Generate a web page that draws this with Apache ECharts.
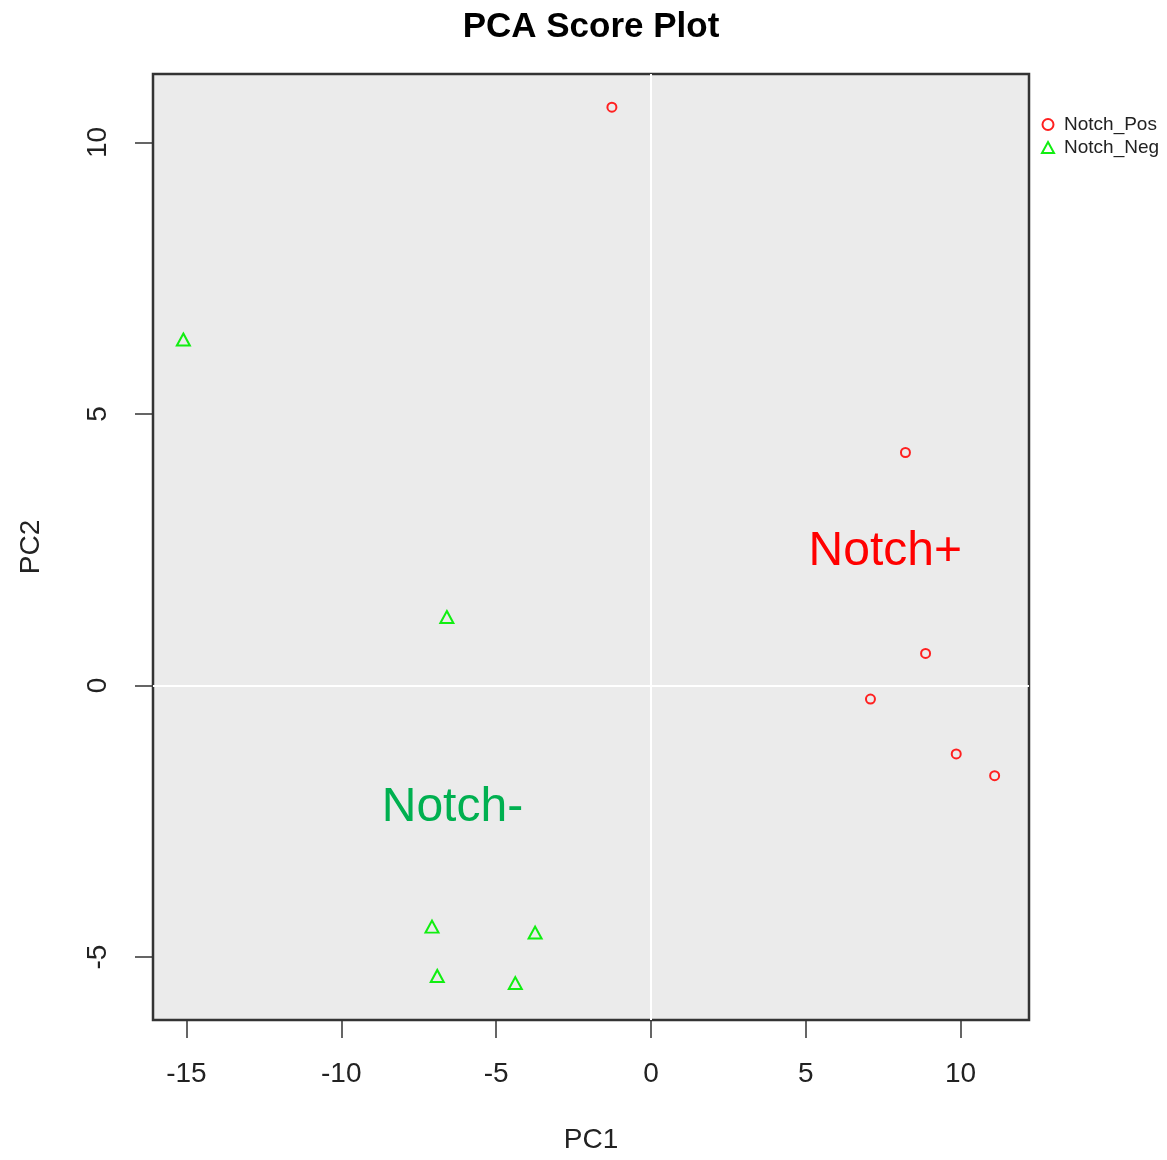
<!DOCTYPE html>
<html>
<head>
<meta charset="utf-8">
<script src="https://cdn.jsdelivr.net/npm/echarts@6/dist/echarts.min.js"></script>
<style>html,body{margin:0;padding:0;background:#fff;}#main{width:1167px;height:1160px;}</style>
</head>
<body>
<div id="main"></div>
<script>
var titleText = 'PCA Score Plot';
var seriesNames = ['Notch_Pos', 'Notch_Neg'];
var posX = [-1.26, 8.22, 8.87, 7.09, 9.86, 11.10];
var posY = [10.65, 4.29, 0.59, -0.25, -1.26, -1.66];
var negX = [-15.10, -6.59, -7.07, -3.74, -6.90, -4.38];
var negY = [6.37, 1.26, -4.44, -4.55, -5.35, -5.48];
var xTicks = [-15, -10, -5, 0, 5, 10];
var yTicks = [-5, 0, 5, 10];
var xRange = [-16.08, 12.21];
var yRange = [-6.16, 11.26];
var annotations = [
  {text: 'Notch+', x: 7.57, y: 2.46, color: '#FF0000'},
  {text: 'Notch-', x: -6.41, y: -2.25, color: '#00B050'}
];

function zip(xs, ys) { return xs.map(function (v, i) { return [v, ys[i]]; }); }

var FONT = 'Liberation Sans, Arial, sans-serif';
var chart = echarts.init(document.getElementById('main'), null, {renderer: 'canvas'});

var axisCommon = {
  type: 'value',
  nameLocation: 'middle',
  nameTextStyle: {fontFamily: FONT, fontSize: 28, color: '#222'},
  axisLine: {show: false, onZero: false},
  splitLine: {show: false},
  axisTick: {show: true, inside: false, length: 18, lineStyle: {color: '#333', width: 1.5}},
  axisLabel: {fontFamily: FONT, fontSize: 28, color: '#222'}
};

var option = {
  backgroundColor: '#fff',
  animation: false,
  title: {
    text: titleText, left: 586, top: 5, textAlign: 'center',
    textStyle: {fontFamily: FONT, fontSize: 35, fontWeight: 'bold', color: '#000'}
  },
  legend: {
    data: [{name: seriesNames[0], icon: 'circle'}, {name: seriesNames[1], icon: 'triangle'}],
    orient: 'vertical',
    left: 1036, top: 110,
    itemWidth: 12, itemHeight: 11, itemGap: 4,
    textStyle: {fontFamily: FONT, fontSize: 19, color: '#222', padding: [0, 0, 0, 5]}
  },
  grid: {
    left: 153, top: 74, width: 876, height: 946,
    show: true, backgroundColor: '#EBEBEB', borderColor: '#333', borderWidth: 2.5
  },
  xAxis: Object.assign({}, axisCommon, {
    min: xRange[0], max: xRange[1], name: 'PC1', nameGap: 106, position: 'bottom',
    axisTick: Object.assign({}, axisCommon.axisTick, {customValues: xTicks}),
    axisLabel: Object.assign({}, axisCommon.axisLabel, {customValues: xTicks, margin: 40})
  }),
  yAxis: Object.assign({}, axisCommon, {
    min: yRange[0], max: yRange[1], name: 'PC2', nameGap: 108, position: 'left',
    axisTick: Object.assign({}, axisCommon.axisTick, {customValues: yTicks}),
    axisLabel: Object.assign({}, axisCommon.axisLabel, {customValues: yTicks, rotate: 90, margin: 41})
  }),
  series: [
    {
      name: seriesNames[0], type: 'scatter', data: zip(posX, posY),
      symbol: 'circle', symbolSize: 9,
      itemStyle: {color: 'rgba(0,0,0,0)', borderColor: '#FF2020', borderWidth: 2, opacity: 1},
      markLine: {
        silent: true, symbol: ['none', 'none'], label: {show: false},
        lineStyle: {color: '#fff', width: 2, type: 'solid'},
        data: [{xAxis: 0}, {yAxis: 0}]
      },
      z: 3
    },
    {
      name: seriesNames[1], type: 'scatter', data: zip(negX, negY),
      symbol: 'triangle', symbolSize: [13, 12],
      itemStyle: {color: 'rgba(0,0,0,0)', borderColor: '#11EE11', borderWidth: 2, opacity: 1},
      z: 3
    },
    {
      name: 'annotations', type: 'scatter', symbolSize: 0, silent: true,
      itemStyle: {opacity: 1},
      data: annotations.map(function (a) {
        return {
          value: [a.x, a.y],
          label: {show: true, position: 'inside', formatter: a.text, color: a.color,
                  fontFamily: FONT, fontSize: 48, textBorderWidth: 0}
        };
      }),
      z: 4
    }
  ]
};
chart.setOption(option);
</script>
</body>
</html>
